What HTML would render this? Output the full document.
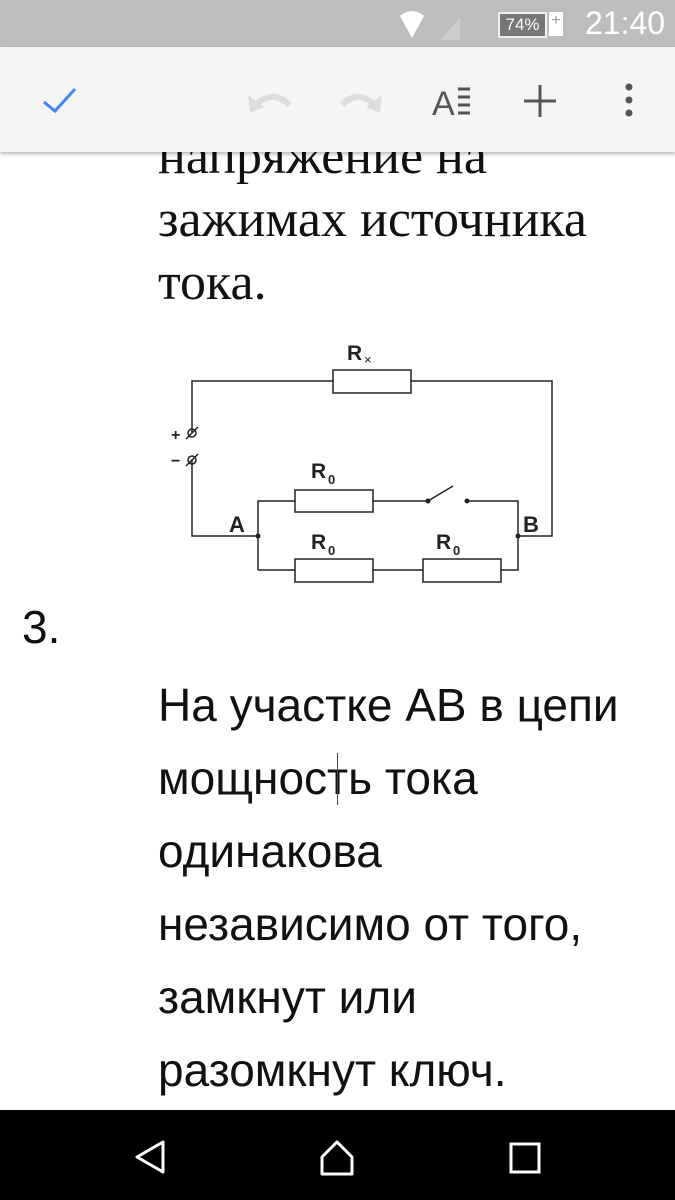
<!DOCTYPE html>
<html><head><meta charset="utf-8"><style>
body{margin:0;width:675px;height:1200px;overflow:hidden;background:#fff;position:relative;font-family:"Liberation Sans",sans-serif}
.abs{position:absolute}
.serif{font-family:"Liberation Serif",serif;font-size:52px;color:#111;left:158px;line-height:63px}
.sans{font-family:"Liberation Sans",sans-serif;font-size:46px;color:#111;left:158px;line-height:73px}
</style></head><body>
<div class="abs serif" style="top:125px">напряжение на<br>зажимах источника<br>тока.</div>
<div class="abs" style="top:0;left:0;width:675px;height:47px;background:#bdbdbd"></div>
<div class="abs" style="top:5px;left:585px;color:#fff;font-size:32px">21:40</div>
<div class="abs" style="top:12px;left:498px;width:45px;height:22px;background:#777;border:2px solid #eee;color:#fff;font-size:17px;text-align:center;line-height:22px">74%</div>
<div class="abs" style="top:12px;left:549px;width:14px;height:24px;background:#fff;color:#999;font-size:16px;text-align:center">+</div>
<svg class="abs" style="left:390px;top:10px" width="80" height="32"><path d="M10 6 Q22 -4 34 6 L22 28Z" fill="#fff"/><path d="M50 30 L70 30 L70 8Z" fill="#ccc"/></svg>
<div class="abs" style="top:47px;left:0;width:675px;height:105px;background:#f5f5f5;box-shadow:0 2px 4px rgba(0,0,0,.3)"></div>
<svg class="abs" style="left:0;top:47px" width="675" height="105">
<path d="M44 55 L55 64 L75 42" stroke="#4285f4" stroke-width="3" fill="none"/>
<path d="M252 62 Q270 40 290 58" stroke="#ddd" stroke-width="6" fill="none"/><path d="M248 48 L250 66 L264 60Z" fill="#ddd"/>
<path d="M342 58 Q360 40 378 62" stroke="#ddd" stroke-width="6" fill="none"/><path d="M382 48 L380 66 L366 60Z" fill="#ddd"/>
<text x="432" y="68" font-size="34" fill="#555" font-family="Liberation Sans">A</text>
<path d="M458 42h12M458 50h12M458 58h12M458 66h12" stroke="#555" stroke-width="3"/>
<path d="M540 38v32M524 54h32" stroke="#555" stroke-width="3"/>
<circle cx="629" cy="40" r="3.5" fill="#555"/><circle cx="629" cy="53" r="3.5" fill="#555"/><circle cx="629" cy="66" r="3.5" fill="#555"/>
</svg>
<svg class="abs" style="left:0;top:0" width="675" height="1110">
<g stroke="#222" stroke-width="1.5" fill="none">
<path d="M192 433 V381 H333 M411 381 H552 V536 H518 M192 460 V536 H258"/>
<rect x="333" y="370" width="78" height="23"/>
<path d="M258 570 V501 H295 M373 501 H428 L453 486 M467 501 H518 V570 H501 M423 570 H373 M295 570 H258"/>
<rect x="295" y="490" width="78" height="22"/>
<rect x="295" y="559" width="78" height="23"/>
<rect x="423" y="559" width="78" height="23"/>
<path d="M186 439 L198 427 M186 466 L198 454"/><circle cx="192" cy="433" r="4"/><circle cx="192" cy="460" r="4"/>
</g>
<g fill="#222"><circle cx="258" cy="536" r="2.5"/><circle cx="518" cy="536" r="2.5"/><circle cx="428" cy="501" r="2.5"/><circle cx="467" cy="501" r="2.5"/></g>
<g font-family="Liberation Sans" fill="#222" font-weight="bold">
<text x="347" y="360" font-size="21">R</text><text x="364" y="364" font-size="13" font-weight="normal">×</text>
<text x="311" y="478" font-size="21">R</text><text x="328" y="484" font-size="13">0</text>
<text x="311" y="549" font-size="21">R</text><text x="328" y="555" font-size="13">0</text>
<text x="436" y="549" font-size="21">R</text><text x="453" y="555" font-size="13">0</text>
<text x="229" y="532" font-size="22">A</text><text x="523" y="532" font-size="22">B</text>
<text x="171" y="440" font-size="16">+</text><text x="171" y="466" font-size="16">−</text>
</g>
</svg>
<div class="abs" style="left:22px;top:600px;font-size:46px;color:#111">3.</div>
<div class="abs sans" style="top:669px">На участке АВ в цепи<br>мощность тока<br>одинакова<br>независимо от того,<br>замкнут или<br>разомкнут ключ.</div>
<div class="abs" style="left:337px;top:753px;width:1px;height:52px;background:#444"></div>
<div class="abs" style="top:1110px;left:0;width:675px;height:90px;background:#000"></div>
<svg class="abs" style="left:0;top:1110px" width="675" height="90">
<path d="M163 32 L137 47 L163 62Z" stroke="#fff" stroke-width="3" fill="none" stroke-linejoin="round"/>
<path d="M322 64 V47 L337 32 L352 47 V64Z" stroke="#fff" stroke-width="3" fill="none" stroke-linejoin="round"/>
<rect x="511" y="34" width="28" height="28" stroke="#fff" stroke-width="3" fill="none"/>
</svg>
</body></html>
